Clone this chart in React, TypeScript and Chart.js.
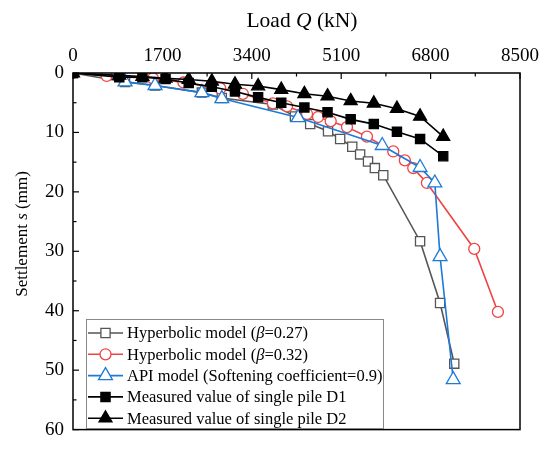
import React, { useEffect, useRef } from 'react';
import { Chart, registerables } from 'chart.js';
import { drawPoint } from 'chart.js/helpers';

Chart.register(...registerables);

const xTickValues = [0, 1700, 3400, 5100, 6800, 8500];
const yTickValues = [0, 10, 20, 30, 40, 50, 60];

const seriesLabels = [
  'Hyperbolic model (β=0.27)',
  'Hyperbolic model (β=0.32)',
  'API model (Softening coefficient=0.9)',
  'Measured value of single pile D1',
  'Measured value of single pile D2',
];

const hyp27Load = [0, 990, 1560, 2450, 2830, 3800, 4220, 4510, 4850, 5080, 5310, 5460, 5610, 5740, 5900, 6600, 6980, 7250];
const hyp27Settle = [0, 1.5, 2.1, 3.3, 4.2, 5.3, 7.3, 8.6, 9.8, 11.1, 12.4, 13.7, 14.9, 16.0, 17.2, 28.3, 38.7, 48.9];

const hyp32Load = [0, 640, 1520, 2100, 2800, 3230, 3800, 4070, 4450, 4660, 4900, 5210, 5590, 6090, 6310, 6470, 6730, 7630, 8080];
const hyp32Settle = [0, 0.5, 0.9, 1.6, 2.6, 3.5, 5.1, 5.6, 6.9, 7.4, 8.1, 9.1, 10.7, 13.2, 14.7, 16.0, 18.5, 29.6, 40.2];

const apiLoad = [990, 1560, 2450, 2830, 4280, 5880, 6600, 6880, 6980, 7230];
const apiSettle = [1.5, 2.1, 3.3, 4.3, 7.5, 12.2, 15.9, 18.5, 30.9, 51.6];

const measuredLoad = [0, 880, 1320, 1760, 2200, 2640, 3080, 3520, 3960, 4400, 4840, 5280, 5720, 6160, 6600, 7040];
const d1Settle = [0, 0.7, 0.7, 1.0, 1.7, 2.3, 3.1, 4.1, 5.0, 5.8, 6.6, 7.8, 8.6, 9.9, 11.1, 14.0];
const d2Settle = [0, 0.4, 0.6, 0.9, 1.1, 1.4, 1.9, 2.2, 2.8, 3.5, 3.9, 4.7, 5.1, 6.0, 7.3, 10.7];

const SERIF = '"Liberation Serif", "Times New Roman", serif';

function drawRich(ctx: CanvasRenderingContext2D, parts: [string, boolean][], x: number, y: number, size: number, align: 'left' | 'center') {
  const widths = parts.map(([t, it]) => {
    ctx.font = `${it ? 'italic ' : ''}${size}px ${SERIF}`;
    return ctx.measureText(t).width;
  });
  const total = widths.reduce((a, b) => a + b, 0);
  let cx = align === 'center' ? x - total / 2 : x;
  ctx.textAlign = 'left';
  ctx.textBaseline = 'middle';
  parts.forEach(([t, it], i) => {
    ctx.font = `${it ? 'italic ' : ''}${size}px ${SERIF}`;
    ctx.fillText(t, cx, y);
    cx += widths[i];
  });
}

function splitItalic(label: string, chars: string[]): [string, boolean][] {
  const out: [string, boolean][] = [];
  let buf = '';
  for (const ch of label) {
    if (chars.includes(ch)) {
      if (buf) out.push([buf, false]);
      buf = '';
      out.push([ch, true]);
    } else buf += ch;
  }
  if (buf) out.push([buf, false]);
  return out;
}

const decorPlugin = {
  id: 'decor',
  afterDatasetsDraw(chart: any) {
    const { ctx, chartArea } = chart;
    const { left, right, top, bottom } = chartArea;
    const xs = chart.scales.x;
    const ys = chart.scales.y;
    ctx.save();
    ctx.strokeStyle = '#000';
    ctx.lineWidth = 1.5;
    ctx.strokeRect(left, top, right - left, bottom - top);
    ctx.lineWidth = 1.2;
    for (let v = 0; v <= 8500; v += 850) {
      const px = xs.getPixelForValue(v);
      const len = v % 1700 === 0 ? 6 : 3.5;
      ctx.beginPath();
      ctx.moveTo(px, top);
      ctx.lineTo(px, top + len);
      ctx.stroke();
    }
    for (let v = 0; v <= 60; v += 5) {
      const py = ys.getPixelForValue(v);
      const len = v % 10 === 0 ? 6 : 3.5;
      ctx.beginPath();
      ctx.moveTo(left, py);
      ctx.lineTo(left + len, py);
      ctx.stroke();
    }
    ctx.fillStyle = '#000';
    drawRich(ctx, [['Load ', false], ['Q', true], [' (kN)', false]], 302, 21, 21.5, 'center');
    ctx.save();
    ctx.translate(23, 234);
    ctx.rotate(-Math.PI / 2);
    drawRich(ctx, [['Settlement ', false], ['s', true], [' (mm)', false]], 0, 0, 17, 'center');
    ctx.restore();

    const bx = 86, by = 319, bw = 297, bh = 109;
    ctx.fillStyle = '#fff';
    ctx.fillRect(bx, by, bw, bh);
    ctx.strokeStyle = '#888';
    ctx.lineWidth = 1;
    ctx.strokeRect(bx + 0.5, by + 0.5, bw, bh);
    chart.data.datasets.forEach((ds: any, i: number) => {
      const y = 333 + i * 21.3;
      ctx.strokeStyle = ds.borderColor;
      ctx.lineWidth = ds.borderWidth;
      ctx.beginPath();
      ctx.moveTo(88, y);
      ctx.lineTo(123, y);
      ctx.stroke();
      ctx.fillStyle = ds.pointBackgroundColor;
      ctx.strokeStyle = ds.borderColor;
      ctx.lineWidth = ds.pointBorderWidth;
      drawPoint(ctx, { pointStyle: ds.pointStyle, radius: ds.pointRadius, rotation: 0, borderWidth: ds.pointBorderWidth } as any, 105.5, y);
      ctx.fillStyle = '#000';
      drawRich(ctx, splitItalic(ds.label, ['β']), 127, y + 1, 16.5, 'left');
    });
    ctx.restore();
  },
};

export default function App() {
  const ref = useRef<HTMLCanvasElement>(null);
  useEffect(() => {
    document.body.style.margin = '0';
    const pts = (loads: number[], settles: number[]) => loads.map((q, i) => ({ x: q, y: settles[i] }));
    const common = { showLine: true, borderWidth: 1.6, pointBorderWidth: 1.3, pointHoverRadius: 0 };
    const chart = new Chart(ref.current as HTMLCanvasElement, {
      type: 'scatter',
      data: {
        datasets: [
          { ...common, label: seriesLabels[0], data: pts(hyp27Load, hyp27Settle), borderColor: '#555555', pointBackgroundColor: '#ffffff', pointStyle: 'rect', pointRadius: 6.5, order: 5 },
          { ...common, label: seriesLabels[1], data: pts(hyp32Load, hyp32Settle), borderColor: '#ee4444', pointBackgroundColor: '#ffffff', pointStyle: 'circle', pointRadius: 5.5, order: 4 },
          { ...common, label: seriesLabels[2], data: pts(apiLoad, apiSettle), borderColor: '#1e7ad8', pointBackgroundColor: '#ffffff', pointStyle: 'triangle', pointRadius: 8, order: 3 },
          { ...common, label: seriesLabels[3], data: pts(measuredLoad, d1Settle), borderColor: '#000000', pointBackgroundColor: '#000000', pointStyle: 'rect', pointRadius: 6.5, order: 2 },
          { ...common, label: seriesLabels[4], data: pts(measuredLoad, d2Settle), borderColor: '#000000', pointBackgroundColor: '#000000', pointStyle: 'triangle', pointRadius: 7.5, order: 1 },
        ] as any,
      },
      options: {
        responsive: true,
        maintainAspectRatio: false,
        animation: false,
        layout: { padding: { left: 0, top: 0, right: 30, bottom: 14 } },
        plugins: { legend: { display: false }, tooltip: { enabled: false } },
        scales: {
          x: {
            type: 'linear',
            position: 'top',
            min: 0,
            max: 8500,
            afterBuildTicks: (s: any) => { s.ticks = xTickValues.map((v) => ({ value: v })); },
            afterFit: (s: any) => { s.height = 73; },
            grid: { display: false, drawTicks: false },
            border: { display: false },
            ticks: { color: '#000', font: { family: SERIF, size: 19 }, padding: 6, maxRotation: 0, autoSkip: false, callback: (v: any) => String(v) },
          },
          y: {
            type: 'linear',
            reverse: true,
            min: 0,
            max: 60,
            afterBuildTicks: (s: any) => { s.ticks = yTickValues.map((v) => ({ value: v })); },
            afterFit: (s: any) => { s.width = 73; },
            grid: { display: false, drawTicks: false },
            border: { display: false },
            ticks: { color: '#000', font: { family: SERIF, size: 19 }, padding: 9, autoSkip: false, callback: (v: any) => String(v) },
          },
        },
      } as any,
      plugins: [decorPlugin],
    });
    return () => chart.destroy();
  }, []);
  return (
    <div style={{ width: 550, height: 450, position: 'relative' }}>
      <canvas ref={ref} />
    </div>
  );
}
